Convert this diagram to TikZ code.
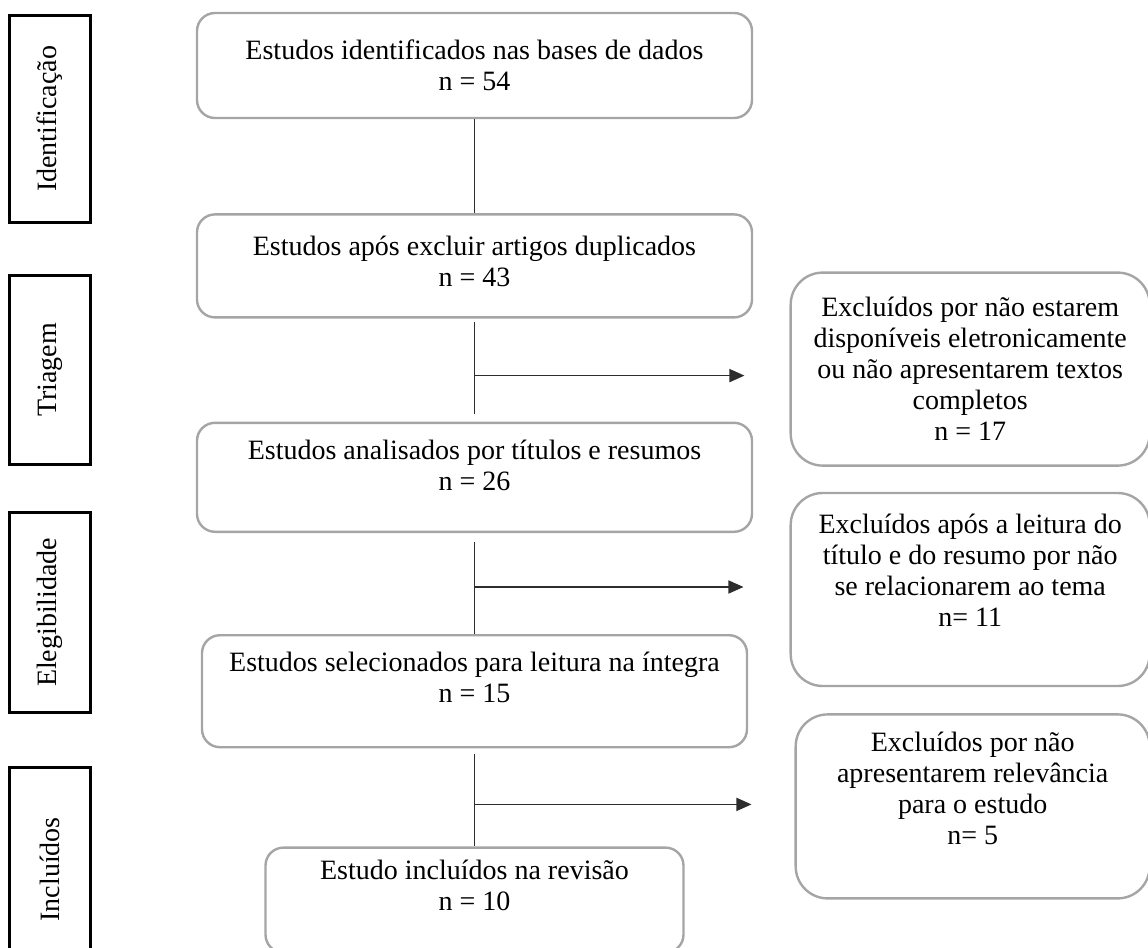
\documentclass[tikz,border=0pt]{standalone}
\usepackage{fontspec}
\setmainfont{Liberation Serif}
\usepackage{graphicx}
\usetikzlibrary{positioning,arrows.meta}

\definecolor{bordacinza}{RGB}{165,165,165}
\definecolor{linhaescura}{RGB}{45,45,45}

\tikzset{
  estudo/.style={draw=bordacinza, line width=1.2pt, rounded corners=9pt, align=center,
    minimum width=277.5pt, inner sep=2pt, font=\fontsize{14pt}{15.5pt}\selectfont},
  exclusao/.style={estudo, rounded corners=16pt, minimum width=179.5pt, minimum height=96.5pt},
  fase/.style={draw=black, line width=1.5pt, minimum width=40.5pt, inner sep=0pt,
    font=\fontsize{14pt}{15.5pt}\selectfont},
  ligacao/.style={draw=linhaescura, line width=0.8pt},
  seta/.style={ligacao, -{Triangle[length=7.5pt,width=6.5pt]}},
}

\begin{document}
\begin{tikzpicture}
  \clip (-237.25pt,32.75pt) rectangle (336.75pt,-441.25pt);

        % Estudos
        \node[estudo, minimum height=52.5pt]   (est_ident)   {Estudos identificados nas bases de dados\\n = 54}; %
        \node[estudo, minimum height=51.5pt, text depth=5pt, below = 47pt of est_ident]   (est_dup)   {Estudos após excluir artigos duplicados\\n = 43}; %
        \node[estudo, minimum height=54.5pt, text depth=12pt, below = 51.5pt of est_dup]   (est_tri)   {Estudos analisados por títulos e resumos\\n = 26}; %
        \node[estudo, minimum height=56pt, minimum width=272.5pt, text depth=13.5pt, below = 50.5pt of est_tri]   (est_sel)   {Estudos selecionados para leitura na íntegra\\n = 15}; %
        \node[estudo, minimum height=52.5pt, minimum width=209pt, text depth=15pt, below = 49pt of est_sel]   (est_incl)   {Estudo incluídos na revisão\\n = 10}; %

        \coordinate[below = 28.5pt of est_dup.south] (ramo_tri);
        \coordinate[below = 27pt of est_tri.south] (ramo_eleg);
        \coordinate[below = 28pt of est_sel.south] (ramo_incl);

        % Excluidos
        \node[exclusao, right = 157.5pt of ramo_tri, yshift=3.25pt]   (exc_tri)   {Excluídos por não estarem\\disponíveis eletronicamente\\ou não apresentarem textos\\completos\\n = 17}; %
        \node[exclusao, text depth=19pt, right = 157.5pt of ramo_eleg, yshift=-1.25pt]   (exc_eleg)   {Excluídos após a leitura do\\título e do resumo por não\\se relacionarem ao tema\\n= 11}; %
        \node[exclusao, minimum width=177pt, minimum height=92pt, text depth=18pt, right = 160pt of ramo_incl, yshift=-1pt]   (exc_incl)   {Excluídos por não\\apresentarem relevância\\para o estudo\\n= 5}; %

        % Fases
        \node[fase, minimum height=103.5pt, left = 52pt of est_ident.north west, anchor=north east, yshift=-1pt]   (fase_ident)   {\rotatebox{90}{Identificação}}; %
        \node[fase, minimum height=94.5pt, below = 25pt of fase_ident]   (fase_tri)   {\rotatebox{90}{Triagem}}; %
        \node[fase, minimum height=100pt, below = 22.5pt of fase_tri]   (fase_eleg)   {\rotatebox{90}{Elegibilidade}}; %
        \node[fase, minimum height=102pt, below = 26pt of fase_eleg]   (fase_incl)   {\rotatebox{90}{Incluídos}}; %

        \draw[ligacao] (est_ident) -- (est_dup);
        \draw[ligacao, shorten <=1.5pt, shorten >=4pt] (est_dup) -- (est_tri);
        \draw[ligacao, shorten <=4.5pt] (est_tri) -- (est_sel);
        \draw[ligacao, shorten <=3pt] (est_sel) -- (est_incl);

        \draw[seta, shorten >=22.5pt] (ramo_tri) -- (ramo_tri -| exc_tri.west);
        \draw[seta, shorten >=23pt] (ramo_eleg) -- (ramo_eleg -| exc_eleg.west);
        \draw[seta, shorten >=21.5pt] (ramo_incl) -- (ramo_incl -| exc_incl.west);

\end{tikzpicture}
\end{document}
